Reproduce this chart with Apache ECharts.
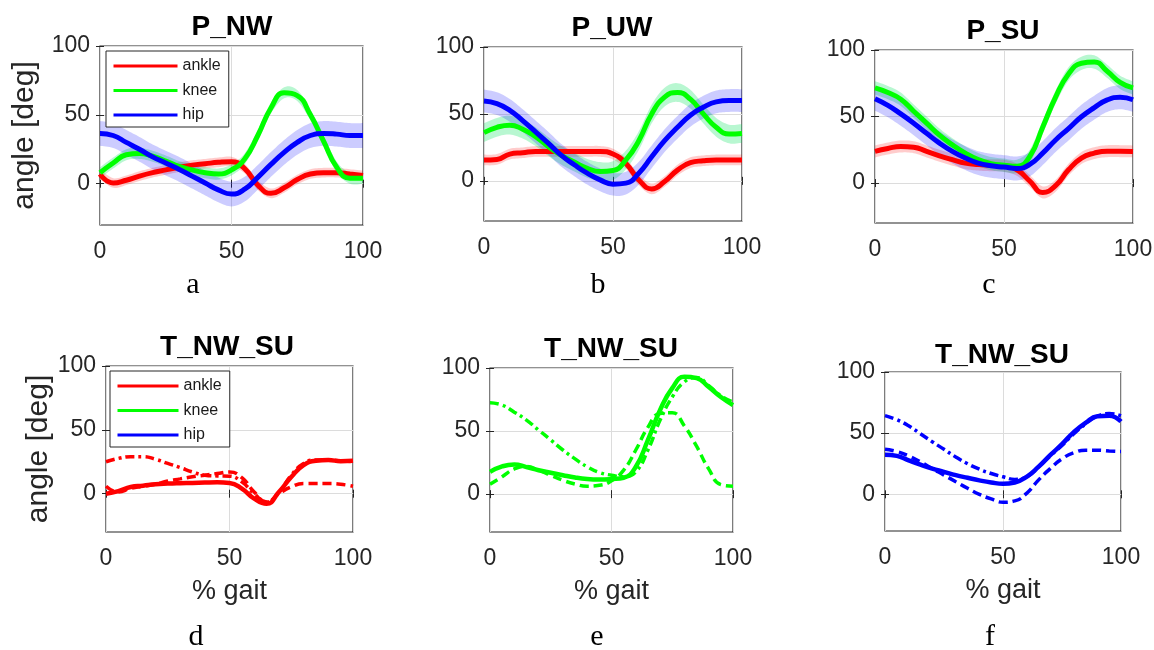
<!DOCTYPE html>
<html>
<head>
<meta charset="utf-8">
<script src="https://cdn.jsdelivr.net/npm/echarts@6.0.0/dist/echarts.min.js"></script>
<style>
html,body{margin:0;padding:0;background:#ffffff;}
#chart{width:1154px;height:650px;}
</style>
</head>
<body>
<div id="chart"></div>
<script>
// ---------------- DATA ----------------
const gaitPct = [0,5,10,15,20,25,30,35,40,45,50,55,60,65,70,75,80,85,90,95,100];
const yTickValues = [0, 50, 100];
const panelTitles = ['P_NW', 'P_UW', 'P_SU', 'T_NW_SU', 'T_NW_SU', 'T_NW_SU'];
const panelLetters = ['a', 'b', 'c', 'd', 'e', 'f'];
const jointNames = ['ankle', 'knee', 'hip'];

// Panel a: P_NW (mean, with SD band)
const ankleNW = [7, 0.5, 2.5, 5.5, 8, 10, 12, 13.5, 14.5, 15.5, 16, 11, -1, -7, -3, 3, 7, 8, 8, 7, 6];
const kneeNW  = [8, 15, 21, 22, 20, 16.5, 12.5, 10, 8, 7, 10, 18, 35, 55, 66, 64, 50, 31, 12, 4, 4];
const hipNW   = [36.5, 35, 30, 25, 19.5, 15, 10.5, 5.5, 0.5, -4.5, -7.5, -4, 4.6, 14, 22.7, 30, 35, 36.5, 36, 35, 35];
const sdNW    = [3.5, 4, 9];

// Panel b: P_UW
const ankleUW = [15.6, 16, 20, 21, 22, 22, 22, 22, 22, 22, 20, 13, 0.7, -6, -0.5, 8, 13.6, 15, 15.6, 15.6, 15.6];
const kneeUW  = [36, 40, 41.6, 38.6, 33, 25.5, 19, 14, 9.4, 7, 7.7, 15.6, 30, 50, 62.6, 66, 61, 50, 40, 35, 35.4];
const hipUW   = [59.7, 57.7, 52.7, 45, 36.6, 28, 19, 12, 5.7, 0.7, -2.5, -1.7, 5.7, 18, 30, 40, 49, 55, 59, 60, 60];
const sdUW    = [4, 7, 8.5];

// Panel c: P_SU
const ankleSU = [23.8, 26, 27.5, 27, 23.8, 20.5, 17.6, 15, 13.9, 13.4, 13, 10, 1.5, -7, -2, 10, 18.8, 22.5, 24, 24, 23.8];
const kneeSU  = [71.5, 68, 63, 54, 45, 36, 28.7, 22.5, 17.6, 14.6, 13.4, 12.6, 20, 42, 64.6, 82, 90, 91, 84, 75.7, 71.5];
const hipSU   = [63.4, 58.4, 52, 45, 37.4, 30, 23.8, 18.8, 15, 13, 12, 11, 14, 22.5, 32.4, 41, 49.8, 56.7, 62.5, 64.5, 62.6];
const sdSU    = [4.5, 5, 9];

// Panel d: T_NW_SU ankle (solid / dashed / dash-dot)
const ankleT_solid   = [0, 2, 5.3, 6.3, 7.4, 7.9, 8.2, 8.4, 8.7, 8.9, 8.4, 4, -3.9, -7.9, 1.3, 13, 22.4, 25.8, 26.3, 25.5, 25.8];
const ankleT_dashed  = [5.8, 1.3, 4.2, 5.8, 7.4, 10, 11.6, 13.2, 14.5, 15.8, 17, 12.6, 1.3, -6.6, 0, 5.3, 7.9, 7.9, 7.9, 7.4, 5.8];
const ankleT_dashdot = [25, 27.6, 29, 29, 27, 23.7, 20.5, 17, 14.5, 13.9, 13.7, 9.2, 0, -6.6, 1.3, 14.5, 23.7, 26.3, 26.3, 25.8, 25];

// Panel e: T_NW_SU knee
const kneeT_solid   = [17.7, 22, 23.5, 21.4, 19, 17, 15, 13.2, 12, 11.6, 12, 13, 21.7, 43, 66.7, 84, 93, 92, 85, 77, 70.6];
const kneeT_dashed  = [7.9, 13.8, 20, 22, 19, 15, 11, 8, 6.3, 7, 10.6, 19, 35, 53, 64, 64.5, 54, 38, 20, 7.5, 6.3];
const kneeT_dashdot = [72.5, 70.6, 65, 58.7, 50.8, 43, 35, 28, 21.7, 17.2, 15, 13.8, 17.7, 35, 58.7, 77, 89, 92.5, 86, 78, 73];

// Panel f: T_NW_SU hip
const hipT_solid   = [32.4, 31.4, 27.8, 24.3, 21, 18.4, 15.7, 13.5, 11.4, 9.7, 8.6, 9.7, 14.3, 22.4, 32, 41, 50.8, 58.4, 63.8, 64.3, 59.5];
const hipT_dashed  = [36.8, 35, 31.4, 26.5, 21, 15.7, 10.3, 4.9, 0, -3.8, -6.5, -5.4, 0.8, 11.6, 21, 29, 34, 36, 36, 35.4, 35];
const hipT_dashdot = [64.3, 61, 56, 49.5, 43, 36.8, 30.5, 25, 20.5, 17, 14.3, 12.2, 14.3, 22.4, 31.4, 40, 49.5, 57.6, 63.8, 66, 64.3];

// ---------------- STYLE / LAYOUT ----------------
const COLORS = { ankle: '#ff0000', knee: '#00ff00', hip: '#0000ff' };
const BANDS  = { ankle: 'rgba(255,0,0,0.20)', knee: 'rgba(0,225,90,0.28)', hip: 'rgba(0,0,255,0.20)' };
const SANS = '"Liberation Sans", Arial, sans-serif';
const SERIF = '"Liberation Serif", "Times New Roman", serif';

const gridBoxes = [
  { left: 100, top: 46, width: 263, height: 179 },
  { left: 484, top: 47, width: 258, height: 174 },
  { left: 875, top: 50, width: 258, height: 173 },
  { left: 106, top: 366, width: 247, height: 166 },
  { left: 490, top: 368, width: 243, height: 164 },
  { left: 885, top: 372, width: 236, height: 159 }
];
const titlePos = [[232, 13], [612, 14], [1003, 17.5], [227, 333], [611, 335], [1002, 341]];
const letterPos = [[193, 285], [598, 285], [989, 285], [196, 637], [597, 637], [990, 637]];

function pts(arr) { return arr.map((v, i) => [gaitPct[i], v]); }

// Catmull-Rom sampling of pixel points (rendering helper for band outlines)
function sampleSpline(p) {
  const out = [];
  const n = 8;
  for (let i = 0; i < p.length - 1; i++) {
    const p0 = p[i - 1] || p[i], p1 = p[i], p2 = p[i + 1], p3 = p[i + 2] || p[i + 1];
    for (let s = 0; s < n; s++) {
      const t = s / n, t2 = t * t, t3 = t2 * t;
      const f = k => 0.5 * ((2 * p1[k]) + (-p0[k] + p2[k]) * t +
        (2 * p0[k] - 5 * p1[k] + 4 * p2[k] - p3[k]) * t2 +
        (-p0[k] + 3 * p1[k] - 3 * p2[k] + p3[k]) * t3);
      out.push([f(0), f(1)]);
    }
  }
  out.push(p[p.length - 1]);
  return out;
}

const grids = gridBoxes.map(g => Object.assign({
  show: true, borderColor: '#262626', borderWidth: 1.2, backgroundColor: 'transparent',
  containLabel: false, outerBoundsMode: 'none'
}, g));

const TICK = { show: true, inside: true, length: 4, lineStyle: { color: '#262626' } };

const xAxes = [];
const yAxes = [];
gridBoxes.forEach((g, i) => {
  xAxes.push({
    type: 'value', gridIndex: i, position: 'bottom', min: 0, max: 100, interval: 50,
    axisLine: { show: false },
    axisTick: TICK,
    axisLabel: { fontSize: 23, color: '#262626', fontFamily: SANS, margin: 15 },
    splitLine: { show: true, lineStyle: { color: '#dcdcdc', width: 1 } },
    name: i >= 3 ? '% gait' : '',
    nameLocation: 'middle', nameGap: 46,
    nameTextStyle: { fontSize: 27, color: '#262626', fontFamily: SANS }
  });
  yAxes.push({
    type: 'value', gridIndex: i, position: 'left', min: -30, max: 100, splitNumber: 3,
    axisLine: { show: false },
    axisTick: Object.assign({ customValues: yTickValues }, TICK),
    axisLabel: { fontSize: 23, color: '#262626', fontFamily: SANS, margin: 10, customValues: yTickValues },
    splitLine: { show: true, lineStyle: { color: '#dcdcdc', width: 1 } },
    name: (i === 0 || i === 3) ? 'angle [deg]' : '',
    nameLocation: 'middle', nameGap: i === 0 ? 60 : 50,
    nameTextStyle: { fontSize: 30, color: '#262626', fontFamily: SANS }
  });
});
// mirrored box ticks (top / right), no labels
gridBoxes.forEach((g, i) => {
  xAxes.push({
    type: 'value', gridIndex: i, position: 'top', min: 0, max: 100, interval: 50,
    axisLine: { show: false }, axisTick: TICK, axisLabel: { show: false }, splitLine: { show: false }
  });
  yAxes.push({
    type: 'value', gridIndex: i, position: 'right', min: -30, max: 100, splitNumber: 3,
    axisLine: { show: false }, axisTick: Object.assign({ customValues: yTickValues }, TICK),
    axisLabel: { show: false, customValues: yTickValues }, splitLine: { show: false }
  });
});

const series = [];
function addBand(gi, joint, mean, sd) {
  const lo = mean.map(v => v - sd), hi = mean.map(v => v + sd);
  series.push({
    type: 'custom', name: joint + ' SD', xAxisIndex: gi, yAxisIndex: gi, silent: true, z: 1,
    data: gaitPct.map((x, i) => [x, lo[i], hi[i]]),
    encode: { x: 0, y: [1, 2] },
    renderItem: function (params, api) {
      if (params.dataIndex !== 0) return null;
      const up = gaitPct.map((x, i) => api.coord([x, hi[i]]));
      const dn = gaitPct.map((x, i) => api.coord([x, lo[i]]));
      const poly = sampleSpline(up).concat(sampleSpline(dn).reverse());
      return { type: 'polygon', shape: { points: poly }, style: { fill: BANDS[joint], stroke: null } };
    }
  });
}
function addLine(gi, name, joint, data, width, type) {
  series.push({
    type: 'line', name: name, xAxisIndex: gi, yAxisIndex: gi,
    data: pts(data), smooth: true, symbol: 'none',
    lineStyle: { color: COLORS[joint], width: width, type: type || 'solid', cap: 'butt' },
    itemStyle: { color: COLORS[joint] }, z: 3
  });
}

const meanPanels = [
  [ankleNW, kneeNW, hipNW, sdNW],
  [ankleUW, kneeUW, hipUW, sdUW],
  [ankleSU, kneeSU, hipSU, sdSU]
];
meanPanels.forEach((p, gi) => {
  jointNames.forEach((j, k) => addBand(gi, j, p[k], p[3][k]));
});
meanPanels.forEach((p, gi) => {
  jointNames.forEach((j, k) => addLine(gi, j, j, p[k], 5));
});

const DASH = [9, 5];
const DASHDOT = [9, 4, 3, 4];
const testPanels = [
  ['ankle', ankleT_solid, ankleT_dashed, ankleT_dashdot],
  ['knee', kneeT_solid, kneeT_dashed, kneeT_dashdot],
  ['hip', hipT_solid, hipT_dashed, hipT_dashdot]
];
testPanels.forEach((p, k) => {
  const gi = 3 + k, j = p[0];
  addLine(gi, j + ' NW', j, p[2], 3.5, DASH);
  addLine(gi, j + ' SU', j, p[3], 3.5, DASHDOT);
  addLine(gi, j, j, p[1], 4.5);
});

function legendAt(left, top, w) {
  return {
    data: jointNames, orient: 'vertical', left: left, top: top,
    itemWidth: w, itemHeight: 14, itemGap: 8.5,
    padding: [7, 8, 4, 6], borderColor: '#262626', borderWidth: 1, backgroundColor: '#ffffff',
    lineStyle: { width: 3 },
    itemStyle: { opacity: 0, borderWidth: 0 },
    textStyle: { fontSize: 16, color: '#1a1a1a', fontFamily: SANS },
    selectedMode: true, z: 10
  };
}

const option = {
  animation: false,
  backgroundColor: '#ffffff',
  title: panelTitles.map((t, i) => ({
    text: t, left: titlePos[i][0], top: titlePos[i][1], textAlign: 'center', padding: 0,
    textStyle: { fontSize: 28, fontWeight: 'bold', color: '#000000', fontFamily: SANS }
  })),
  legend: [legendAt(106, 51, 64), legendAt(110, 371, 61)],
  grid: grids,
  xAxis: xAxes,
  yAxis: yAxes,
  series: series,
  graphic: panelLetters.map((l, i) => ({
    type: 'text', x: letterPos[i][0], y: letterPos[i][1],
    style: { text: l, font: '30px ' + SERIF, fill: '#000000', align: 'center', verticalAlign: 'middle' }
  }))
};

const chart = echarts.init(document.getElementById('chart'), null, { renderer: 'canvas' });
chart.setOption(option);
</script>
</body>
</html>
